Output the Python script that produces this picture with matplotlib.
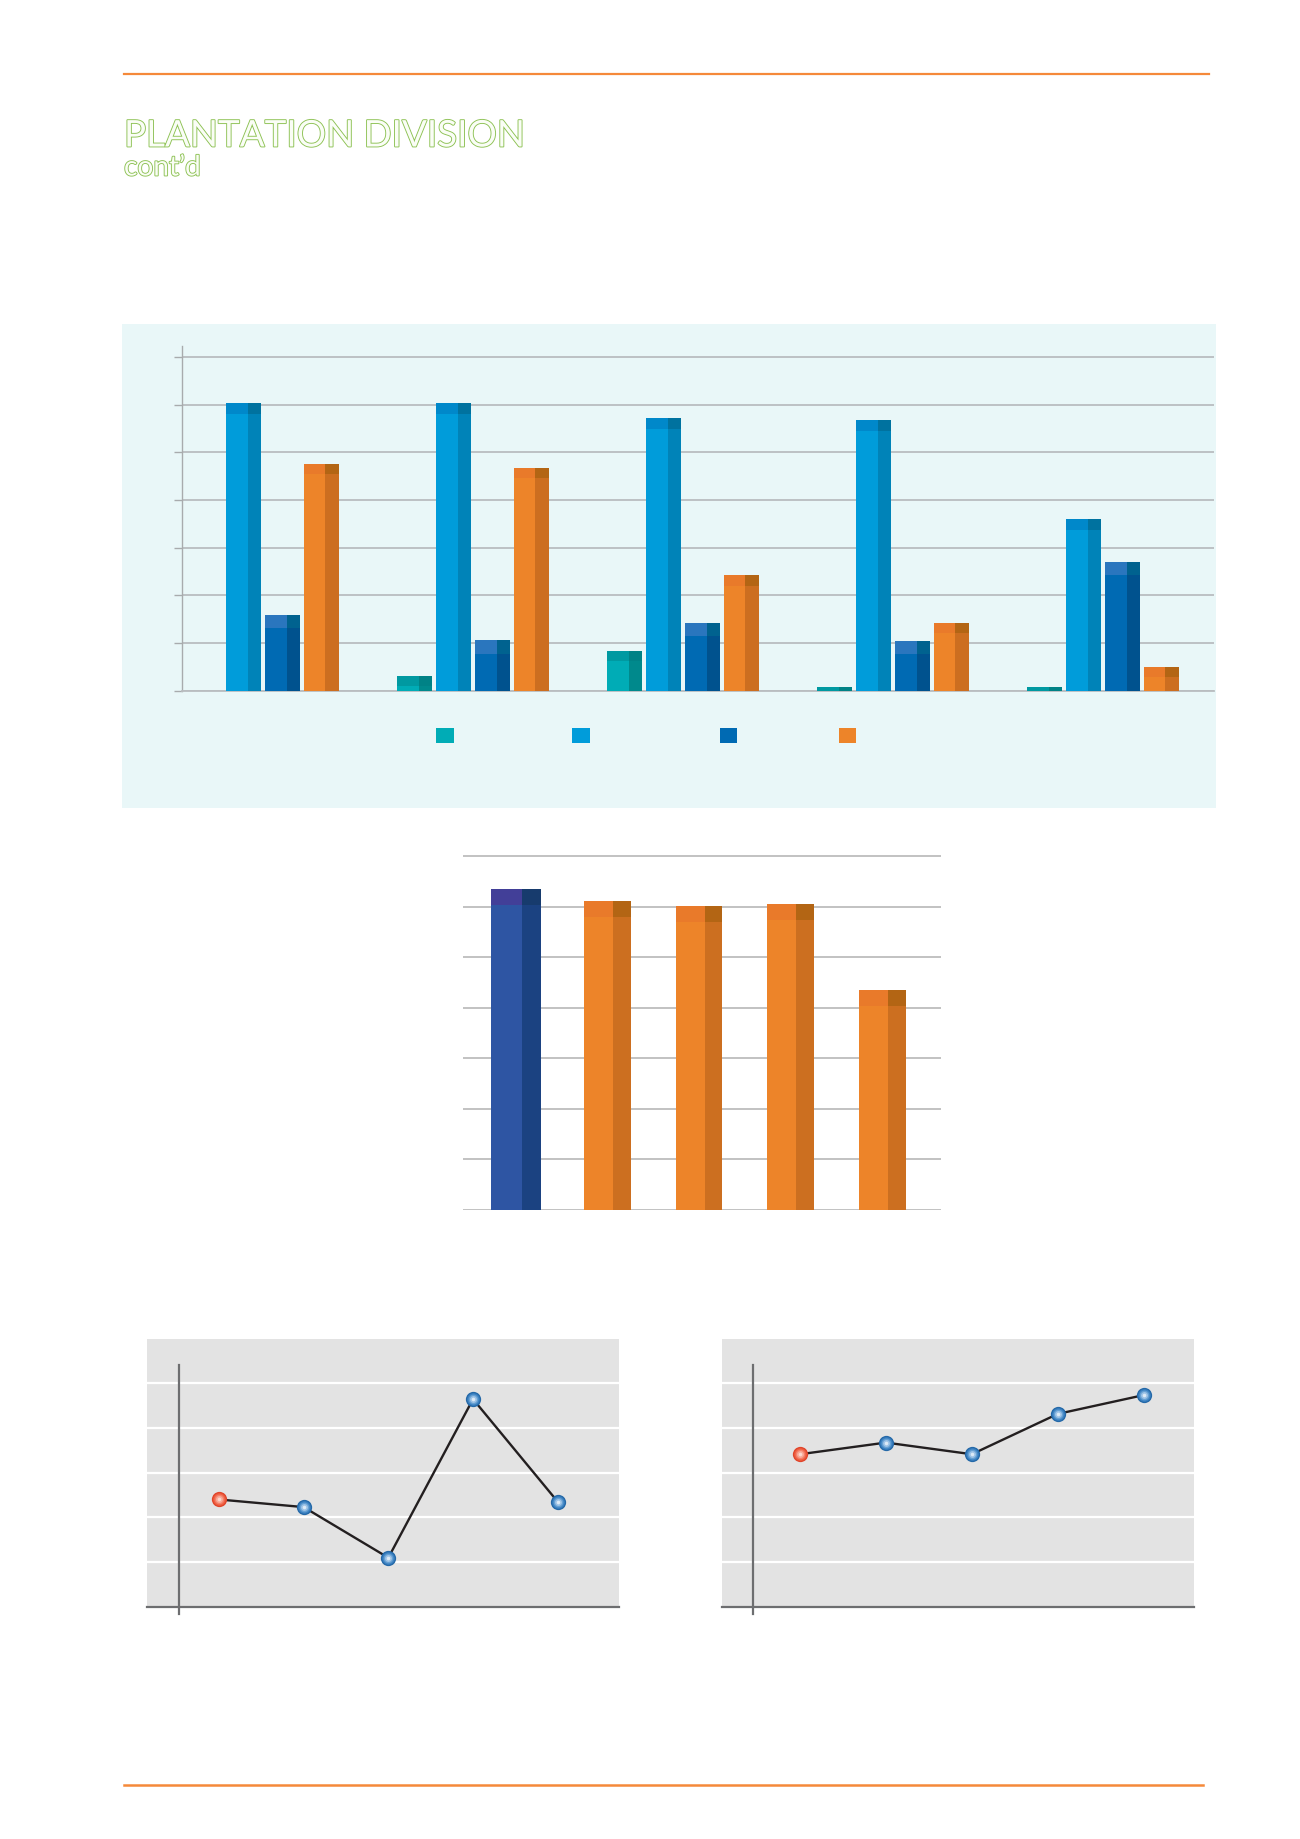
import matplotlib
matplotlib.use("Agg")
import matplotlib.pyplot as plt
import matplotlib.patheffects as pe
from matplotlib.patches import Rectangle
from matplotlib.lines import Line2D
import numpy as np

# ---------------- data ----------------
categories = [0, 1, 2, 3, 4]
teal = [0.0, 0.31, 0.83, 0.08, 0.08]
light_blue = [6.04, 6.04, 5.72, 5.68, 3.60]
dark_blue = [1.59, 1.05, 1.42, 1.04, 2.70]
orange = [4.76, 4.67, 2.42, 1.42, 0.50]

mid_categories = [0, 1, 2, 3, 4]
mid_values = [6.34, 6.11, 6.01, 6.05, 4.35]

line_x = [0, 1, 2, 3, 4]
left_line = [2.40, 2.23, 1.10, 4.64, 2.35]
right_line = [3.41, 3.67, 3.41, 4.31, 4.73]

title = "PLANTATION DIVISION"
subtitle = "cont\u2019d"

# ---------------- figure ----------------
W, H = 1300, 1839
fig = plt.figure(figsize=(W / 100, H / 100), dpi=100)
fig.patch.set_facecolor("white")


def rect(l, t, r, b):
    return [l / W, 1 - b / H, (r - l) / W, (b - t) / H]


def fx(x):
    return x / W


def fy(y):
    return 1 - y / H


ORANGE_RULE = "#F5893A"
fig.add_artist(Line2D([fx(124), fx(1209)], [fy(74), fy(74)], color=ORANGE_RULE, lw=1.6))
fig.add_artist(Line2D([fx(124), fx(1203)], [fy(1785), fy(1785)], color=ORANGE_RULE, lw=1.8))

# title (outlined green text), sized to the reference's width
outline = [pe.Stroke(linewidth=1.3, foreground="#8CC152"), pe.Normal()]
TFONT = ["Liberation Sans Narrow", "Lato", "DejaVu Sans"]
t1 = fig.text(fx(124), fy(146.5), title, fontsize=34, family=TFONT, color="#FAFDF6",
              va="baseline", ha="left", path_effects=outline)
t2 = fig.text(fx(124), fy(175.5), subtitle, fontsize=25, family=TFONT, color="#FAFDF6",
              va="baseline", ha="left", path_effects=outline)
fig.canvas.draw()
_r = fig.canvas.get_renderer()
for t, target in ((t1, 402.0), (t2, 77.0)):
    bb = t.get_window_extent(_r)
    t.set_fontsize(t.get_fontsize() * target / bb.width)


def bar3d(ax, x, vals, width, cols, cap, split=0.62):
    x = np.asarray(x, dtype=float)
    vals = np.asarray(vals, dtype=float)
    width = np.broadcast_to(np.asarray(width, dtype=float), x.shape)
    lw_ = width * split
    rw_ = width - lw_
    left = x - width / 2
    ax.bar(left, vals, width=lw_, align="edge", color=cols[0], linewidth=0, zorder=3)
    ax.bar(left + lw_, vals, width=rw_, align="edge", color=cols[1], linewidth=0, zorder=3)
    c = np.minimum(vals, cap)
    ax.bar(left, c, bottom=vals - c, width=lw_, align="edge", color=cols[2], linewidth=0, zorder=4)
    ax.bar(left + lw_, c, bottom=vals - c, width=rw_, align="edge", color=cols[3], linewidth=0, zorder=4)


# ---------------- top grouped bar chart ----------------
fig.add_artist(Rectangle((fx(122), fy(808)), (1216 - 122) / W, (808 - 324) / H,
                         transform=fig.transFigure, facecolor="#E9F7F8", edgecolor="none", zorder=0))

unit_px = 210.0
first_c = 263.0
ax_l, ax_r = 182, 1214
ax_top, ax_base = 346, 690.5
yunit = (690.5 - 357.0) / 7
ax1 = fig.add_axes(rect(ax_l, ax_top, ax_r, ax_base))
ax1.set_facecolor("none")
ax1.set_xlim(-(first_c - ax_l) / unit_px, (ax_r - first_c) / unit_px)
ax1.set_ylim(0, (ax_base - ax_top) / yunit)

bw = 34.7 / unit_px
step = 38.8 / unit_px
series = [
    (teal, ["#00ACB6", "#00898C", "#0099A1", "#008286"], 0.22),
    (light_blue, ["#009CDA", "#0083B8", "#0088CA", "#00729F"], 0.23),
    (dark_blue, ["#006AB3", "#00528E", "#2A76BE", "#00628F"], 0.28),
    (orange, ["#ED8429", "#CC6E20", "#E97A2A", "#B36514"], 0.22),
]
cx = np.asarray(categories, dtype=float)
for i, (vals, cols, cap) in enumerate(series):
    bar3d(ax1, cx + (i - 1.5) * step, vals, bw, cols, cap)

ax1.set_yticks(range(0, 8))
ax1.set_xticks([])
ax1.yaxis.grid(True, color="#B9BDC0", lw=1.3, zorder=1)
ax1.tick_params(axis="y", direction="out", length=6, width=1.0, color="#A8ABAD", labelleft=False)
for s in ["top", "right"]:
    ax1.spines[s].set_visible(False)
ax1.spines["left"].set_color("#A8ABAD")
ax1.spines["left"].set_linewidth(1.0)
ax1.spines["bottom"].set_color("#B9BDC0")
ax1.spines["bottom"].set_linewidth(1.3)

# legend squares (labels absent in the reference)
leg_cols = ["#00ACB6", "#009CDA", "#006AB3", "#ED8429"]
leg_x = [436, 572, 720, 839]
for c, lx in zip(leg_cols, leg_x):
    fig.add_artist(Rectangle((fx(lx), fy(743)), 17.5 / W, 15 / H, transform=fig.transFigure,
                             facecolor=c, edgecolor="none", zorder=5))

# ---------------- middle bar chart ----------------
m_l, m_r = 463, 941
m_first = 515.8
m_unit = 91.6
m_top, m_base = 852, 1210
m_yunit = (1210 - 856) / 7
ax2 = fig.add_axes(rect(m_l, m_top, m_r, m_base))
ax2.set_facecolor("none")
ax2.set_xlim(-(m_first - m_l) / m_unit, (m_r - m_first) / m_unit)
ax2.set_ylim(0, (m_base - m_top) / m_yunit)
mx = np.asarray(mid_categories, dtype=float)
mid_w = np.array([50.3, 46.7, 46.7, 46.7, 46.7]) / m_unit
mv = np.asarray(mid_values)
bar3d(ax2, mx[:1], mv[:1], mid_w[:1], ["#2E55A3", "#1B4281", "#423F98", "#173B6D"], 0.31)
bar3d(ax2, mx[1:], mv[1:], mid_w[1:], ["#ED8429", "#CC6F20", "#E97A2A", "#B36514"], 0.31)
ax2.set_yticks(range(0, 8))
ax2.set_xticks([])
ax2.yaxis.grid(True, color="#BDBDBD", lw=1.3, zorder=1)
ax2.tick_params(length=0, labelleft=False)
for s in ax2.spines.values():
    s.set_visible(False)


# ---------------- bottom line charts ----------------
def ball(ax, x, y, kind):
    if kind == "red":
        cols = ["#E0452B", "#EF5F41", "#F4806A", "#F8AA98", "#FCD6CC"]
    else:
        cols = ["#2569A8", "#3C82C2", "#66A0D3", "#9DC3E6", "#DCEAF6"]
    sizes = [11.0, 9.0, 7.0, 5.0, 2.6]
    for c, s in zip(cols, sizes):
        ax.plot([x], [y], "o", ms=s, color=c, mec="none", zorder=5)


def line_panel(l, r, first, last, yaxis_x, data):
    t, b = 1339, 1607
    n_unit = 44.8
    span = (len(data) - 1)
    ax = fig.add_axes(rect(l, t, r, b))
    ax.set_facecolor("#E3E3E3")
    step_px = (last - first) / span
    ax.set_xlim(-(first - l) / step_px, (r - first) / step_px)
    ax.set_ylim(0, (b - t) / n_unit)
    ax.set_yticks([1, 2, 3, 4, 5])
    ax.set_xticks([])
    ax.yaxis.grid(True, color="white", lw=1.6, zorder=1)
    ax.tick_params(length=0, labelleft=False)
    for s in ["top", "right", "left"]:
        ax.spines[s].set_visible(False)
    ax.spines["bottom"].set_color("#6D6E70")
    ax.spines["bottom"].set_linewidth(1.6)
    xl = (yaxis_x - first) / step_px
    ax.axvline(xl, ymin=-7 / (b - t), ymax=(b - 1365) / (b - t), color="#6D6E70", lw=1.6,
               clip_on=False, zorder=2)
    ax.plot(line_x, data, color="#231F20", lw=1.7, zorder=4)
    for i, (xv, yv) in enumerate(zip(line_x, data)):
        ball(ax, xv, yv, "red" if i == 0 else "blue")
    return ax


line_panel(147, 619, 219.0, 557.7, 179, left_line)
line_panel(722, 1194, 800.0, 1143.7, 753, right_line)

fig.savefig("out.png", dpi=100, facecolor="white")
